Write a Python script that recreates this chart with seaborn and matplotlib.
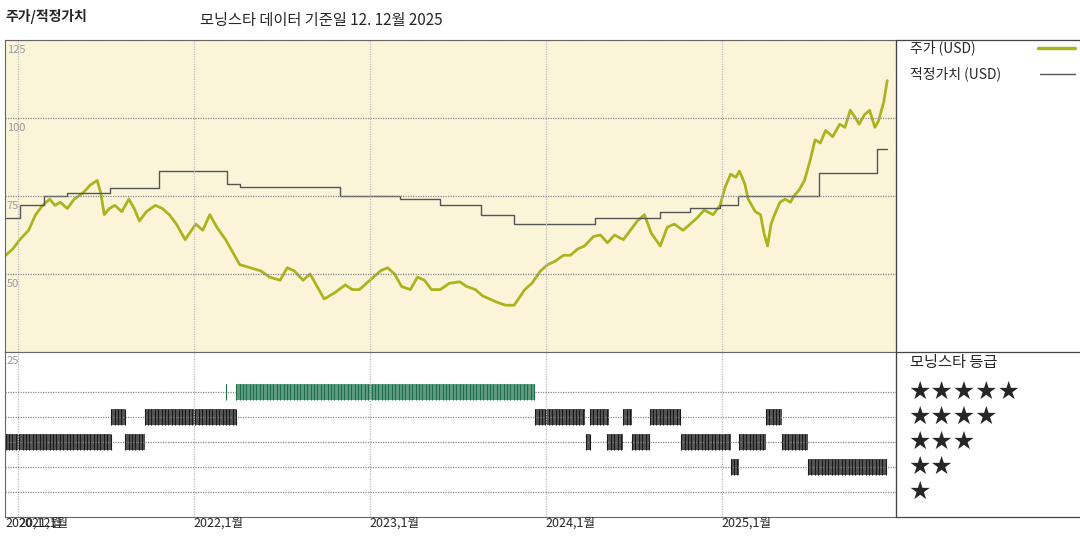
import numpy as np
import pandas as pd
import matplotlib
matplotlib.use("Agg")
import matplotlib.pyplot as plt
import seaborn as sns

# price (USD), fractional years
price_t = [2020.93, 2020.97, 2021.01, 2021.06, 2021.10, 2021.14, 2021.18, 2021.21, 2021.24, 2021.28, 2021.32,
           2021.37, 2021.41, 2021.45, 2021.47, 2021.49, 2021.52, 2021.55, 2021.59, 2021.63, 2021.66, 2021.69,
           2021.73, 2021.78, 2021.82, 2021.86, 2021.90, 2021.95, 2022.01, 2022.05, 2022.09, 2022.13, 2022.18,
           2022.22, 2022.26, 2022.32, 2022.38, 2022.43, 2022.49, 2022.53, 2022.57, 2022.62, 2022.66, 2022.70,
           2022.74, 2022.80, 2022.86, 2022.90, 2022.94, 2023.00, 2023.06, 2023.10, 2023.14, 2023.18, 2023.23,
           2023.27, 2023.31, 2023.35, 2023.40, 2023.45, 2023.51, 2023.55, 2023.60, 2023.64, 2023.68, 2023.72,
           2023.77, 2023.82, 2023.88, 2023.92, 2023.97, 2024.01, 2024.05, 2024.10, 2024.14, 2024.18, 2024.22,
           2024.27, 2024.31, 2024.35, 2024.39, 2024.44, 2024.48, 2024.52, 2024.56, 2024.60, 2024.65, 2024.69,
           2024.73, 2024.78, 2024.82, 2024.86, 2024.90, 2024.95, 2024.99, 2025.02, 2025.05, 2025.08, 2025.10,
           2025.13, 2025.15, 2025.19, 2025.22, 2025.24, 2025.26, 2025.28, 2025.30, 2025.33, 2025.36, 2025.39,
           2025.41, 2025.44, 2025.47, 2025.50, 2025.53, 2025.56, 2025.59, 2025.63, 2025.67, 2025.70, 2025.73,
           2025.76, 2025.78, 2025.81, 2025.84, 2025.87, 2025.89, 2025.92, 2025.94]
price_v = [56, 58, 61, 64, 69, 72, 74, 72, 73, 71, 74,
           76, 78.5, 80, 76, 69, 71, 72, 70, 74, 71, 67,
           70, 72, 71, 69, 66, 61, 66, 64, 69, 65, 61,
           57, 53, 52, 51, 49, 48, 52, 51, 48, 50, 46,
           42, 44, 46.5, 45, 45, 48, 51, 52, 50, 46, 45,
           49, 48, 45, 45, 47, 47.5, 46, 45, 43, 42, 41,
           40, 40, 45, 47, 51, 53, 54, 56, 56, 58, 59,
           62, 62.5, 60, 62.5, 61, 64, 67, 69, 63, 59, 65,
           66, 64, 66, 68, 70.5, 69, 72, 78, 82, 81, 83,
           79, 74, 70, 69, 63, 59, 66, 69, 73, 74, 73,
           75, 77, 80, 86, 93, 92, 96, 94, 98, 97, 102.5,
           100, 98, 101, 102.5, 97, 99, 105, 112]

# fair value (USD), step starts
fair_t = [2020.93, 2021.01, 2021.15, 2021.28, 2021.52, 2021.80, 2022.19, 2022.26, 2022.83, 2023.17,
          2023.40, 2023.63, 2023.82, 2024.28, 2024.65, 2024.82, 2024.99, 2025.09, 2025.55, 2025.88, 2025.94]
fair_v = [68, 72, 75, 76, 77.5, 83, 79, 78, 75, 74,
          72, 69, 66, 68, 70, 71, 72, 75, 82.5, 90, 90]

# morningstar rating periods
rating_start = [2020.93, 2021.53, 2021.61, 2021.72, 2022.18, 2022.24, 2023.94, 2024.23, 2024.25, 2024.35,
                2024.44, 2024.49, 2024.59, 2024.77, 2025.05, 2025.10, 2025.25, 2025.34, 2025.49]
rating_end = [2021.53, 2021.61, 2021.72, 2022.24, 2022.19, 2023.94, 2024.22, 2024.25, 2024.36, 2024.44,
              2024.49, 2024.59, 2024.77, 2025.05, 2025.10, 2025.25, 2025.34, 2025.49, 2025.94]
rating_stars = [3, 4, 3, 4, 5, 5, 4, 3, 4, 3, 4, 3, 4, 3, 2, 3, 4, 3, 2]

years = [2021, 2022, 2023, 2024, 2025]
price_ticks = [50, 75, 100, 125]

sns.set_style("white")
plt.rcParams['font.family'] = ['Noto Sans CJK KR', 'DejaVu Sans']

W, H = 1080, 540
fig = plt.figure(figsize=(10.8, 5.4), dpi=100)
x0, x1 = 5 / W, 896 / W
xmin, xmax = 2020.926, 2025.99
ax = fig.add_axes([x0, 1 - 352 / H, x1 - x0, 312 / H])
axr = fig.add_axes([x0, 1 - 517 / H, x1 - x0, 165 / H])

ax.set_facecolor('#faf5d9')
df = pd.DataFrame({'t': price_t, 'v': price_v})
sns.lineplot(data=df, x='t', y='v', ax=ax, color='#aab41e', lw=2.0)
ax.step(fair_t, fair_v, where='post', color='#555555', lw=1)
ax.set_xlim(xmin, xmax)
ax.set_ylim(25, 125)
for a in (ax, axr):
    for y in years:
        a.axvline(y, color='#bbbbbb', ls=(0, (1, 1)), lw=0.9)
    a.set_xticks([])
    a.set_yticks([])
    a.set_xlabel('')
    a.set_ylabel('')
    for s in a.spines.values():
        s.set_color('#666666')
        s.set_linewidth(0.8)
for p in price_ticks:
    ax.axhline(p, color='#888888', ls=(0, (1, 1)), lw=0.9)
    ax.text(xmin + 0.01, p - 1.5, str(p), color='#999999', fontsize=8, va='top', ha='left')

axr.set_xlim(xmin, xmax)
axr.set_ylim(0, 6.6)
for s in range(1, 6):
    axr.axhline(s, color='#888888', ls=(0, (1, 1)), lw=0.9)
axr.text(xmin + 0.01, 6.45, '25', color='#999999', fontsize=8, va='top', ha='left')
for a0, a1, st in zip(rating_start, rating_end, rating_stars):
    fill, line = ('#5a9e7e', '#1f6e4a') if st == 5 else ('#555555', '#1a1a1a')
    w = max(a1 - a0, 0.004)
    axr.bar(a0, 0.64, width=w, bottom=st - 0.32, align='edge', color=fill, lw=0)
    wk = np.arange(a0, a0 + w + 1e-9, 1 / 52)
    axr.vlines(wk, st - 0.32, st + 0.32, color=line, lw=0.8)

# tick labels under the ratings panel
def fx(t):
    return x0 + (t - xmin) / (xmax - xmin) * (x1 - x0)
fig.text(fx(xmin), 1 - 523 / H, '2020,12월', fontsize=9, va='center', ha='left')
for y in years:
    fig.text(fx(y), 1 - 523 / H, f'{y},1월', fontsize=9, va='center', ha='left')

# frame lines on the right block
for yy in (40, 352, 517):
    fig.add_artist(plt.Line2D([x1, 1], [1 - yy / H] * 2, color='#444444', lw=0.9))
fig.add_artist(plt.Line2D([x1, x1], [1 - 40 / H, 1 - 517 / H], color='#444444', lw=0.9))

# titles
fig.text(5 / W, 1 - 16 / H, '주가/적정가치', fontsize=10, fontweight='bold', va='center')
fig.text(200 / W, 1 - 20 / H, '모닝스타 데이터 기준일 12. 12월 2025', fontsize=11, va='center')

# legend
fig.text(910 / W, 1 - 48 / H, '주가 (USD)', fontsize=10, va='center')
fig.add_artist(plt.Line2D([1038 / W, 1075 / W], [1 - 48 / H] * 2, color='#aab41e', lw=2.5))
fig.text(910 / W, 1 - 74 / H, '적정가치 (USD)', fontsize=10, va='center')
fig.add_artist(plt.Line2D([1040 / W, 1075 / W], [1 - 74 / H] * 2, color='#555555', lw=1))
fig.text(910 / W, 1 - 362 / H, '모닝스타 등급', fontsize=11, va='center')
for i, n in enumerate([5, 4, 3, 2, 1]):
    fig.text(908 / W, 1 - (392 + 25 * i) / H, '★' * n, fontsize=18, va='center',
             family=['DejaVu Sans'])

fig.savefig('out.png', dpi=100)
